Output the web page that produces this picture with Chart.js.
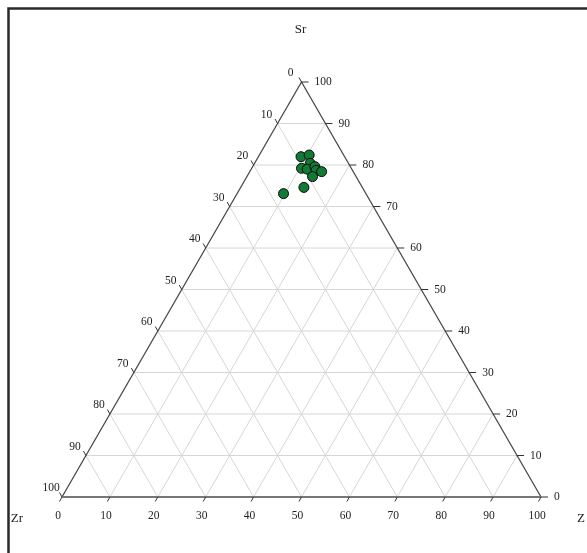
<!DOCTYPE html>
<html>
<head>
<meta charset="utf-8">
<script src="https://cdn.jsdelivr.net/npm/chart.js@4"></script>
<style>
html,body{margin:0;padding:0;background:#fff;}
#wrap{width:587px;height:553px;position:relative;}
</style>
</head>
<body>
<div id="wrap"><canvas id="c"></canvas></div>
<script>
// Ternary components (percent)
const srValues = [82.0, 82.4, 80.4, 79.2, 79.0, 79.6, 78.7, 78.4, 77.2, 74.6, 73.1];
const zValues  = [ 8.9, 10.4, 11.6, 10.4, 11.7, 13.0, 13.7, 15.0, 13.7, 13.2,  9.7];
const zrValues = [ 9.1,  7.2,  8.0, 10.4,  9.3,  7.4,  7.6,  6.6,  9.1, 12.2, 17.2];
const tickValues = [0,10,20,30,40,50,60,70,80,90,100];
const apexLabel = 'Sr';
const leftLabel = 'Zr';
const rightLabel = 'Z';

const H = Math.sqrt(3)/2;
const points = srValues.map((s,i)=>{
  const tot = s + zValues[i] + zrValues[i];
  const S = s/tot*100, Z = zValues[i]/tot*100;
  return {x: Z + S/2, y: S*H};
});

const FONT = '"Liberation Serif", "DejaVu Serif", serif';

const ternary = {
  id:'ternary',
  beforeDatasetsDraw(chart){
    const ctx = chart.ctx;
    const xs = chart.scales.x, ys = chart.scales.y;
    const P = (Z,S)=>[xs.getPixelForValue(Z + S/2), ys.getPixelForValue(S*H)];
    ctx.save();
    // frame
    ctx.strokeStyle = '#2a2a2a'; ctx.lineWidth = 2.5;
    ctx.beginPath(); ctx.moveTo(8.5, 553); ctx.lineTo(8.5, 8.5); ctx.lineTo(587, 8.5); ctx.stroke();
    // grid
    ctx.strokeStyle = '#d6d6d6'; ctx.lineWidth = 1;
    for (let v=10; v<100; v+=10){
      let a = P(0,v), b = P(100-v,v);
      ctx.beginPath(); ctx.moveTo(a[0],a[1]); ctx.lineTo(b[0],b[1]); ctx.stroke();
      a = P(v,0); b = P(v,100-v);
      ctx.beginPath(); ctx.moveTo(a[0],a[1]); ctx.lineTo(b[0],b[1]); ctx.stroke();
      a = P(100-v,0); b = P(0,100-v);
      ctx.beginPath(); ctx.moveTo(a[0],a[1]); ctx.lineTo(b[0],b[1]); ctx.stroke();
    }
    // triangle edges
    const A = P(0,100), L = P(0,0), R = P(100,0);
    ctx.strokeStyle = '#4a4a4a'; ctx.lineWidth = 1.3;
    ctx.beginPath(); ctx.moveTo(L[0],L[1]); ctx.lineTo(A[0],A[1]); ctx.lineTo(R[0],R[1]); ctx.stroke();
    ctx.strokeStyle = '#777'; ctx.lineWidth = 2;
    ctx.beginPath(); ctx.moveTo(L[0],L[1]); ctx.lineTo(R[0],R[1]); ctx.stroke();
    // ticks and labels
    ctx.strokeStyle = '#333'; ctx.lineWidth = 1;
    ctx.fillStyle = '#222';
    ctx.font = '11.5px ' + FONT;
    ctx.textBaseline = 'middle';
    tickValues.forEach(v=>{
      let p = P(v,0);
      ctx.beginPath(); ctx.moveTo(p[0],p[1]); ctx.lineTo(p[0]-2.5,p[1]+4.5); ctx.stroke();
      ctx.textAlign = 'center';
      ctx.fillText(String(v), p[0]-4, p[1]+19);
      p = P(100-v, v);
      ctx.beginPath(); ctx.moveTo(p[0],p[1]); ctx.lineTo(p[0]+7,p[1]); ctx.stroke();
      ctx.textAlign = 'left';
      ctx.fillText(String(v), p[0]+13, p[1]);
      p = P(0, 100-v);
      ctx.beginPath(); ctx.moveTo(p[0],p[1]); ctx.lineTo(p[0]-2.5,p[1]-4.5); ctx.stroke();
      ctx.textAlign = 'center';
      ctx.fillText(String(v), p[0]-11, p[1]-9);
    });
    // titles
    ctx.font = '13px ' + FONT;
    ctx.textAlign = 'center';
    ctx.fillStyle = '#222';
    ctx.fillText(apexLabel, A[0]-1, 30);
    ctx.fillText(leftLabel, 17, L[1]+22);
    ctx.textAlign = 'left';
    ctx.fillText(rightLabel, 577, R[1]+22);
    ctx.restore();
  }
};

new Chart(document.getElementById('c'), {
  type:'scatter',
  data:{datasets:[{
    data: points,
    pointRadius: 5,
    pointHoverRadius: 5,
    backgroundColor:'#137a35',
    borderColor:'#0a0a0a',
    borderWidth:1
  }]},
  options:{
    responsive:true,
    maintainAspectRatio:false,
    animation:false,
    layout:{padding:{left:62, right:46, top:82, bottom:56}},
    plugins:{legend:{display:false}, tooltip:{enabled:false}},
    scales:{
      x:{type:'linear', min:0, max:100, display:false},
      y:{type:'linear', min:0, max:100*H, display:false}
    }
  },
  plugins:[ternary]
});
</script>
</body>
</html>
